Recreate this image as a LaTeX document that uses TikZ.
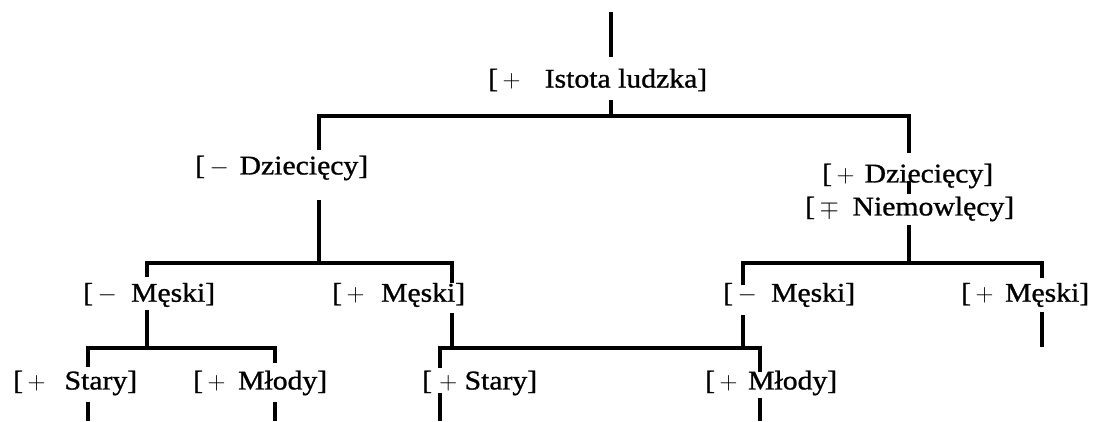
\documentclass[tikz,border=0pt]{standalone}
\usepackage{fontspec}
\setmainfont[FakeStretch=1.1,FakeBold=1.0]{Liberation Serif}
\newcommand{\lab}[3]{\makebox[#1pt]{#2\hfill #3}}
\begin{document}
\begin{tikzpicture}[x=1pt,y=-1pt,
  feat/.style={anchor=west,inner sep=0pt,font=\fontsize{27}{30}\selectfont},
  conn/.style={line width=3.2pt,line join=miter}]
\useasboundingbox[fill=white] (0,0) rectangle (1097,421);
% text nodes
\node[feat] (root) at (488,80) {\lab{219}{[\,$+$}{Istota ludzka]}};
\node[feat] (lD) at (195,168) {\lab{173}{[\,$-$}{Dziecięcy]}};
\node[feat] (rD1) at (822,176) {\lab{171}{[\,$+$}{Dziecięcy]}};
\node[feat] (rD2) at (805,209) {\lab{209}{[\,$\mp$}{Niemowlęcy]}};
\node[feat] (lM) at (83,295) {\lab{132}{[\,$-$}{Męski]}};
\node[feat] (pM) at (332,295) {\lab{133}{[\,$+$}{Męski]}};
\node[feat] (rM) at (723,295) {\lab{132}{[\,$-$}{Męski]}};
\node[feat] (rpM) at (961,295) {\lab{128}{[\,$+$}{Męski]}};
\node[feat] (S1) at (13,383) {\lab{124}{[\,$+$}{Stary]}};
\node[feat] (Y1) at (193,383) {\lab{134}{[\,$+$}{Młody]}};
\node[feat] (S2) at (422,383) {\lab{115}{[\hfill$+$}{Stary]}};
\node[feat] (Y2) at (705,383) {\lab{132}{[\,$+$}{Młody]}};
% coordinates
\coordinate (t0) at (611,12);
\coordinate (t1) at (611,57);
\coordinate (t2) at (611,100);
\coordinate (j1) at (611,116);
\coordinate (j1l) at (319,116);
\coordinate (j1r) at (909,116);
\coordinate (ld0) at (319,150);
\coordinate (rd0) at (909,153);
\coordinate (rk0) at (909,181);
\coordinate (rk1) at (909,194);
\coordinate (rd1) at (909,225);
\coordinate (rd2) at (909,263);
\coordinate (ld1) at (319,200);
\coordinate (ld2) at (319,263);
\coordinate (a0) at (147,277);
\coordinate (a1) at (147,263);
\coordinate (a2) at (452,263);
\coordinate (a3) at (452,283);
\coordinate (b0) at (147,310);
\coordinate (b1) at (147,348);
\coordinate (c0) at (88,367);
\coordinate (c1) at (88,348);
\coordinate (c2) at (275,348);
\coordinate (c3) at (275,363);
\coordinate (d0) at (88,402);
\coordinate (d1) at (88,421);
\coordinate (d2) at (275,402);
\coordinate (d3) at (275,421);
\coordinate (e0) at (452,313);
\coordinate (e1) at (452,348);
\coordinate (f0) at (440,368);
\coordinate (f1) at (440,348);
\coordinate (f2) at (760,348);
\coordinate (f3) at (760,372);
\coordinate (g0) at (440,393);
\coordinate (g1) at (440,421);
\coordinate (h0) at (743,315);
\coordinate (h1) at (743,348);
\coordinate (i0) at (760,398);
\coordinate (i1) at (760,421);
\coordinate (k0) at (743,285);
\coordinate (k1) at (743,263);
\coordinate (k2) at (1042,263);
\coordinate (k3) at (1042,278);
\coordinate (m0) at (1042,312);
\coordinate (m1) at (1042,347);
% connectors
\draw[conn] (t0) -- (t1);
\draw[conn] (t2) -- (j1);
\draw[conn] (ld0) -- (j1l) -- (j1r) -- (rd0);
\draw[conn] (rk0) -- (rk1);
\draw[conn] (rd1) -- (rd2);
\draw[conn] (ld1) -- (ld2);
\draw[conn] (a0) -- (a1) -- (a2) -- (a3);
\draw[conn] (b0) -- (b1);
\draw[conn] (c0) -- (c1) -- (c2) -- (c3);
\draw[conn] (d0) -- (d1);
\draw[conn] (d2) -- (d3);
\draw[conn] (e0) -- (e1);
\draw[conn] (f0) -- (f1) -- (f2) -- (f3);
\draw[conn] (g0) -- (g1);
\draw[conn] (h0) -- (h1);
\draw[conn] (i0) -- (i1);
\draw[conn] (k0) -- (k1) -- (k2) -- (k3);
\draw[conn] (m0) -- (m1);
\end{tikzpicture}
\end{document}
